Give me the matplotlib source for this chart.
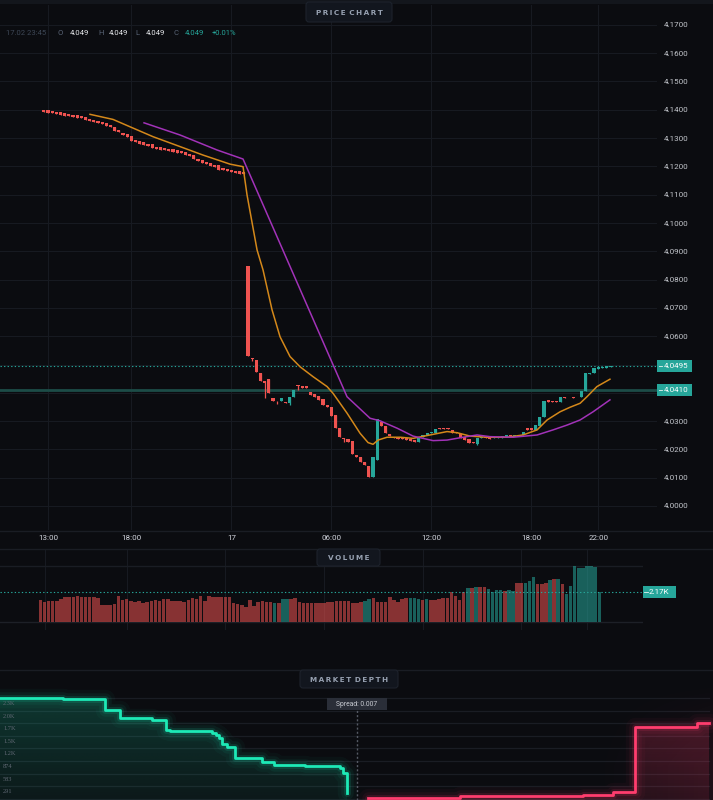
import matplotlib
matplotlib.use("Agg")
import matplotlib.pyplot as plt
import numpy as np
from matplotlib.patches import FancyBboxPatch, Rectangle
from matplotlib.lines import Line2D
from matplotlib.transforms import Affine2D, offset_copy
from matplotlib.colors import to_rgb

plt.rcParams["font.family"] = ["Roboto", "DejaVu Sans"]

W, H = 713, 800
BG = "#0b0c10"
GRID = "#171a21"
UP = "#26a69a"
DOWN = "#ef5350"
BID = "#1de9b6"
ASK = "#ff3d6e"

# ---- price chart: 15 minute candles, time in hours from 16.02 00:00
t_start = 12.75
t_step = 0.25
opens = [4.1401, 4.1398, 4.1396, 4.1393, 4.1391, 4.1387, 4.1385, 4.1382, 4.1380, 4.1378,
         4.1373, 4.1369, 4.1364, 4.1362, 4.1357, 4.1352, 4.1348, 4.1339, 4.1329, 4.1318,
         4.1313, 4.1307, 4.1294, 4.1288, 4.1285, 4.1280, 4.1279, 4.1269, 4.1267, 4.1265,
         4.1263, 4.1260, 4.1257, 4.1254, 4.1250, 4.1244, 4.1240, 4.1227, 4.1221, 4.1216,
         4.1211, 4.1205, 4.1205, 4.1194, 4.1191, 4.1188, 4.1185, 4.1182, 4.1180, 4.0848,
         4.0523, 4.0516, 4.0471, 4.0442, 4.0448, 4.0382, 4.0371, 4.0372, 4.0369, 4.0363,
         4.0385, 4.0425, 4.0424, 4.0424, 4.0404, 4.0395, 4.0390, 4.0377, 4.0357, 4.0349,
         4.0322, 4.0275, 4.0239, 4.0236, 4.0230, 4.0180, 4.0174, 4.0157, 4.0141, 4.0104,
         4.0163, 4.0298, 4.0284, 4.0254, 4.0245, 4.0243, 4.0241, 4.0239, 4.0236, 4.0233,
         4.0227, 4.0243, 4.0250, 4.0257, 4.0259, 4.0277, 4.0277, 4.0276, 4.0269, 4.0263,
         4.0254, 4.0243, 4.0237, 4.0227, 4.0219, 4.0239, 4.0243, 4.0241, 4.0239, 4.0239,
         4.0240, 4.0245, 4.0250, 4.0247, 4.0248, 4.0251, 4.0275, 4.0275, 4.0269, 4.0283,
         4.0316, 4.0375, 4.0372, 4.0372, 4.0369, 4.0384, 4.0383, 4.0384, 4.0383, 4.0386,
         4.0407, 4.0466, 4.0471, 4.0483, 4.0489, 4.0487, 4.0492]
closes = [4.1393, 4.1390, 4.1388, 4.1385, 4.1383, 4.1379, 4.1377, 4.1374, 4.1372, 4.1370,
          4.1365, 4.1361, 4.1356, 4.1354, 4.1349, 4.1344, 4.1340, 4.1325, 4.1321, 4.1310,
          4.1305, 4.1290, 4.1286, 4.1280, 4.1277, 4.1272, 4.1265, 4.1261, 4.1259, 4.1257,
          4.1255, 4.1252, 4.1249, 4.1246, 4.1242, 4.1236, 4.1226, 4.1219, 4.1213, 4.1208,
          4.1203, 4.1197, 4.1187, 4.1186, 4.1183, 4.1180, 4.1177, 4.1174, 4.1172, 4.0530,
          4.0521, 4.0475, 4.0442, 4.0434, 4.0398, 4.0371, 4.0370, 4.0382, 4.0363, 4.0385,
          4.0410, 4.0424, 4.0418, 4.0418, 4.0392, 4.0386, 4.0375, 4.0357, 4.0351, 4.0319,
          4.0275, 4.0245, 4.0238, 4.0227, 4.0183, 4.0172, 4.0157, 4.0145, 4.0104, 4.0172,
          4.0306, 4.0283, 4.0259, 4.0247, 4.0239, 4.0238, 4.0236, 4.0233, 4.0231, 4.0227,
          4.0243, 4.0251, 4.0257, 4.0262, 4.0271, 4.0272, 4.0272, 4.0271, 4.0259, 4.0257,
          4.0239, 4.0233, 4.0222, 4.0222, 4.0239, 4.0243, 4.0239, 4.0236, 4.0245, 4.0243,
          4.0247, 4.0250, 4.0247, 4.0251, 4.0252, 4.0263, 4.0269, 4.0269, 4.0286, 4.0313,
          4.0372, 4.0369, 4.0369, 4.0368, 4.0384, 4.0381, 4.0380, 4.0381, 4.0380, 4.0407,
          4.0469, 4.0471, 4.0487, 4.0490, 4.0492, 4.0495, 4.0495]
wick_low = {50: 4.0512, 53: 4.0382, 56: 4.0362, 59: 4.0357, 61: 4.0410, 72: 4.0227, 104: 4.0216}

# moving averages (time, price)
ma_fast_t = [15.52, 16.90, 17.92, 19.30, 20.92, 22.30, 23.92, 24.70, 24.94, 25.54, 25.90, 26.44,
             26.92, 27.52, 28.12, 28.90, 29.74, 30.10, 30.94, 31.72, 32.20, 32.50, 32.80, 33.34,
             34.12, 34.90, 35.92, 36.94, 37.54, 38.32, 39.34, 40.54, 41.50, 42.34, 42.94, 43.72,
             44.32, 44.92, 45.33, 45.93, 46.71]
ma_fast_p = [4.1384, 4.1366, 4.1340, 4.1305, 4.1270, 4.1240, 4.1208, 4.1199, 4.1099, 4.0905, 4.0834,
             4.0693, 4.0598, 4.0528, 4.0492, 4.0457, 4.0422, 4.0398, 4.0328, 4.0257, 4.0224, 4.0218,
             4.0233, 4.0243, 4.0243, 4.0239, 4.0251, 4.0263, 4.0259, 4.0247, 4.0243, 4.0243, 4.0251,
             4.0269, 4.0304, 4.0333, 4.0349, 4.0363, 4.0386, 4.0422, 4.0448]
ma_slow_t = [18.76, 20.92, 23.14, 24.70, 30.94, 32.32, 32.92, 33.94, 34.90, 36.10, 36.94, 37.90,
             38.74, 39.52, 40.90, 42.34, 43.30, 44.14, 44.92, 45.70, 46.71]
ma_slow_p = [4.1354, 4.1311, 4.1258, 4.1226, 4.0386, 4.0310, 4.0301, 4.0275, 4.0247, 4.0231, 4.0233,
             4.0243, 4.0251, 4.0245, 4.0243, 4.0251, 4.0269, 4.0286, 4.0304, 4.0333, 4.0375]

last_price = 4.0495
ref_price = 4.0410
price_ticks = [4.17, 4.16, 4.15, 4.14, 4.13, 4.12, 4.11, 4.10, 4.09, 4.08, 4.07, 4.06,
               4.05, 4.04, 4.03, 4.02, 4.01, 4.00]
time_ticks = [13, 18, 24, 30, 36, 42, 46]
time_labels = ["13:00", "18:00", "17", "06:00", "12:00", "18:00", "22:00"]

# ---- volume
volumes = [1581, 1440, 1487, 1487, 1487, 1628, 1770, 1817, 1770, 1864,
           1817, 1817, 1770, 1770, 1723, 1204, 1204, 1204, 1298, 1864,
           1581, 1676, 1487, 1440, 1487, 1392, 1440, 1487, 1581, 1534,
           1628, 1628, 1534, 1487, 1487, 1440, 1581, 1699, 1676, 1864,
           1487, 1864, 1817, 1770, 1770, 1817, 1817, 1345, 1298, 1251,
           1109, 1581, 1156, 1440, 1487, 1440, 1440, 1392, 1345, 1628,
           1628, 1676, 1723, 1440, 1392, 1345, 1345, 1345, 1345, 1345,
           1463, 1463, 1487, 1510, 1487, 1487, 1392, 1392, 1416, 1487,
           1652, 1699, 1416, 1416, 1463, 1794, 1581, 1416, 1652, 1746,
           1746, 1699, 1652, 1605, 1628, 1581, 1581, 1628, 1699, 1699,
           2148, 1864, 1605, 2148, 2431, 2431, 2525, 2525, 2478, 2360,
           2171, 2266, 2266, 2218, 2266, 2195, 2761, 2761, 2808, 2903,
           3186, 2714, 2714, 2761, 2997, 3044, 3044, 2714, 2006, 2572,
           4012, 3847, 3847, 3988, 3988, 3918, 2171]
vol_up_idx = [57, 59, 60, 79, 80, 90, 91, 92, 94, 104, 106, 109, 110, 111, 112, 114, 115,
              118, 119, 120, 124, 126, 128, 129, 130, 131, 132, 133, 134, 135, 136]
vol_last = 2170

# ---- market depth
bid_prices = [3.9265, 3.9476, 3.9615, 3.9665, 3.9771, 3.9818, 3.9832, 3.9972, 3.9985, 3.9995,
              4.0004, 4.0021, 4.0048, 4.0139, 4.0178, 4.0282, 4.0398, 4.0409, 4.0421]
bid_cum = [2322, 2306, 2052, 1874, 1820, 1589, 1566, 1527, 1473, 1404, 1265, 1196, 948,
           849, 779, 756, 710, 594, 132]
ask_prices = [4.0492, 4.0798, 4.1208, 4.1308, 4.1382, 4.1588, 4.1628]
ask_cum = [23, 56, 86, 162, 1665, 1758, 1758]
depth_ticks = [291, 583, 874, 1166, 1457, 1749, 2040, 2331]
depth_labels = ["291", "583", "874", "1.2K", "1.5K", "1.7K", "2.0K", "2.3K"]
mid_price = 4.0455
spread = 0.007

# pixel (from top-left) -> figure transform
fig = plt.figure(figsize=(W / 100, H / 100), dpi=100, facecolor=BG)
PX = Affine2D().scale(1 / W, -1 / H).translate(0, 1) + fig.transFigure


def box(x0, y0, x1, y1, fc, ec="none", r=0.0, z=5):
    p = FancyBboxPatch((x0, y0), x1 - x0, y1 - y0,
                       boxstyle=f"round,pad=0,rounding_size={r}" if r else "square,pad=0",
                       fc=fc, ec=ec, lw=0.8, transform=PX, zorder=z)
    fig.add_artist(p)


def hline(y, x0=0, x1=W, color="#1a1d24", lw=1.0):
    fig.add_artist(Line2D([x0, x1], [y, y], color=color, lw=lw, transform=PX, zorder=4))


times = t_start + t_step * np.arange(len(opens))
o = np.array(opens)
c = np.array(closes)

# ================= price chart
ax = fig.add_axes([0, 1 - 530 / H, 657 / W, 525 / H])
ax.set_facecolor(BG)
for s in ax.spines.values():
    s.set_visible(False)
ax.set_xlim(13 - 48 / 16.67, 13 + 609 / 16.67)
ax.set_ylim(4 - 24 / 2830, 4 + 501 / 2830)
ax.set_xticks(time_ticks, time_labels)
ax.set_yticks(price_ticks, [("" if p in (4.05, 4.04) else f"{p:.4f}") for p in price_ticks])
ax.yaxis.tick_right()
ax.tick_params(axis="x", length=0, pad=3.5, labelsize=5.8, colors="#d1d4dc")
ax.tick_params(axis="y", length=0, pad=5, labelsize=5.8, colors="#c3c6cc")
ax.grid(True, color=GRID, lw=0.8)
ax.set_axisbelow(True)

up = c >= o
cols = np.where(up, UP, DOWN)
bottoms = np.minimum(o, c)
heights = np.maximum(np.abs(c - o), 0.00025)
lows = np.array([wick_low.get(i, b) for i, b in enumerate(bottoms)])
ax.vlines(times, lows, bottoms + heights, colors=cols, lw=0.9, zorder=3)
ax.bar(times, heights, bottom=bottoms, width=0.19, color=cols, lw=0, zorder=4)

ax.plot(ma_fast_t, ma_fast_p, color="#d4881a", lw=1.1, zorder=5)
ax.plot(ma_slow_t, ma_slow_p, color="#a232b8", lw=1.1, zorder=5)

ax.axhline(last_price, color=UP, lw=0.8, ls=(0, (1.2, 2.0)), zorder=2)
ax.axhline(ref_price, color="#1c4c47", lw=2.0, zorder=2)
ytr = ax.get_yaxis_transform()
for p in (last_price, ref_price):
    ax.add_patch(Rectangle((1.0, p - 0.00215), 35 / 657, 0.0043, transform=ytr,
                           fc=UP, ec="none", clip_on=False, zorder=6))
    ax.add_line(Line2D([1.003, 1.007], [p, p], transform=ytr, color="#e8f5f3",
                       lw=0.6, clip_on=False, zorder=7))
    ax.text(664 / 657, p, f"{p:.4f}", transform=ytr, ha="left", va="center",
            fontsize=5.8, color="white", zorder=7, clip_on=False)

# OHLC row
row_y = 33
fig.text(6, row_y, "17.02 23:45", transform=PX, fontsize=5.5, color="#3d4756", va="center")
for x, s, col in [(57, "O", "#5a6577"), (70, "4.049", "#e6e8ec"), (98, "H", "#5a6577"),
                  (109, "4.049", "#e6e8ec"), (135, "L", "#5a6577"), (146, "4.049", "#e6e8ec"),
                  (174, "C", "#5a6577"), (185, "4.049", UP), (212, "+0.01%", UP)]:
    fig.text(x, row_y, s, transform=PX, fontsize=5.5, color=col, va="center")

# ================= volume
ax2 = fig.add_axes([0, 1 - 630 / H, 643 / W, 81 / H])
ax2.set_facecolor(BG)
for s in ax2.spines.values():
    s.set_visible(False)
ax2.set_xlim(13 - 44.5 / 16.44, 13 + 598.5 / 16.44)
ax2.set_ylim(-546, 5198)
ax2.set_xticks(time_ticks)
ax2.set_yticks([])
ax2.tick_params(axis="x", length=0, labelbottom=False)
ax2.grid(True, axis="x", color=GRID, lw=0.8)
ax2.set_axisbelow(True)
vcols = [UP if i in vol_up_idx else DOWN for i in range(len(volumes))]
ax2.bar(times, volumes, width=0.215, color=vcols, alpha=0.55, lw=0, zorder=3)
ax2.axhline(0, color="#1d2027", lw=1.0, zorder=2)
ax2.axhline(max(volumes), color="#1a1d24", lw=1.0, zorder=2)
ax2.axhline(vol_last, color=UP, lw=0.8, ls=(0, (1.2, 2.0)), zorder=4)
ytr2 = ax2.get_yaxis_transform()
ax2.add_patch(Rectangle((1.0, vol_last - 12 * 35.5), 33 / 643, 12 * 71, transform=ytr2,
                        fc=UP, ec="none", clip_on=False, zorder=6))
ax2.add_line(Line2D([1.002, 1.007], [vol_last, vol_last], transform=ytr2, color="#e8f5f3",
                    lw=0.6, clip_on=False, zorder=7))
ax2.text(649 / 643, vol_last, "2.17K", transform=ytr2, ha="left", va="center",
         fontsize=5.8, color="white", zorder=7, clip_on=False)

# ================= market depth
ax3 = fig.add_axes([0, 0, 1, 128 / H])
ax3.set_facecolor(BG)
for s in ax3.spines.values():
    s.set_visible(False)
x_lo, x_hi = 3.9265, 4.1642
ax3.set_xlim(x_lo, x_hi)
ax3.set_ylim(-30, 2931)
ax3.set_xticks([])
ax3.set_yticks([])
for v in [0] + depth_ticks:
    ax3.axhline(v, xmax=709 / 713, color="#1a1d24", lw=0.9, zorder=1)
lab_tr = offset_copy(ax3.transData, fig=fig, y=-5.6, units="dots")
for v, s in zip(depth_ticks, depth_labels):
    ax3.text(x_lo + 0.001, v, s, transform=lab_tr, fontsize=4.6, color="#5f6773",
             family="Liberation Serif", va="center", ha="left", zorder=8)

# gradient fills clipped to the depth polygons
bid_poly = ax3.fill_between(bid_prices, bid_cum, -30, step="post", color="none", lw=0)
g = np.zeros((256, 1, 4))
g[..., :3] = to_rgb(BID)
g[..., 3] = np.linspace(0.20, 0.06, 256)[:, None]
im = ax3.imshow(g, extent=[x_lo, bid_prices[-1], -30, 2400], aspect="auto",
                origin="upper", zorder=2, interpolation="bilinear")
im.set_clip_path(bid_poly.get_paths()[0], transform=ax3.transData)

ask_poly = ax3.fill_between(ask_prices, ask_cum, -30, step="post", color="none", lw=0)
g2 = np.zeros((256, 1, 4))
g2[..., :3] = to_rgb(ASK)
g2[..., 3] = np.linspace(0.22, 0.10, 256)[:, None]
im2 = ax3.imshow(g2, extent=[ask_prices[0], x_hi, -30, 1800], aspect="auto",
                 origin="upper", zorder=2, interpolation="bilinear")
im2.set_clip_path(ask_poly.get_paths()[0], transform=ax3.transData)

# soft glow on the ask side, fading to the left and to the top
gx = np.linspace(0, 1, 256)[None, :] ** 1.6
gy = np.clip(np.linspace(0, 1.4, 128)[:, None], 0, 1)
g3 = np.zeros((128, 256, 4))
g3[..., :3] = to_rgb(ASK)
g3[..., 3] = 0.08 * gx * gy
ax3.imshow(g3, extent=[4.1168, x_hi, -30, 2750], aspect="auto", zorder=1.5,
           origin="upper", interpolation="bilinear")

for lw, a in [(14, 0.035), (9, 0.06), (5, 0.12)]:
    ax3.step(bid_prices, bid_cum, where="post", color=BID, lw=lw, alpha=a, zorder=3,
             solid_joinstyle="round", solid_capstyle="round")
    ax3.step(ask_prices, ask_cum, where="post", color=ASK, lw=lw, alpha=a, zorder=3,
             solid_joinstyle="round", solid_capstyle="round")
ax3.step(bid_prices, bid_cum, where="post", color=BID, lw=2.0, zorder=4)
ax3.step(ask_prices, ask_cum, where="post", color=ASK, lw=2.0, zorder=4)

ax3.plot([mid_price, mid_price], [-30, 2060], color="#555a64", lw=1.0,
         ls=(0, (1.5, 1.5)), zorder=5)

# ================= frame pieces
fig.add_artist(Rectangle((0, 0), W, 4, transform=PX, fc="#13161c", ec="none", zorder=3))
hline(530.5)
hline(548.5)
hline(670)

box(306, 2, 392, 22, "#12161e", "#1d222c", r=3)
fig.text(349, 13, "P\u2009R\u2009I\u2009C\u2009E\u2002C\u2009H\u2009A\u2009R\u2009T", transform=PX,
         ha="center", va="center", fontsize=5.2, fontweight="bold", color="#97a1b1",
         family="DejaVu Sans", zorder=6)
box(317, 549, 380, 566, "#12161e", "#1d222c", r=3)
fig.text(348.5, 557.5, "V\u2009O\u2009L\u2009U\u2009M\u2009E", transform=PX,
         ha="center", va="center", fontsize=5.2, fontweight="bold", color="#97a1b1",
         family="DejaVu Sans", zorder=6)
box(300, 670, 398, 688, "#12161e", "#1d222c", r=3)
fig.text(349, 679.5, "M\u2009A\u2009R\u2009K\u2009E\u2009T\u2002D\u2009E\u2009P\u2009T\u2009H",
         transform=PX, ha="center", va="center", fontsize=5.2, fontweight="bold",
         color="#97a1b1", family="DejaVu Sans", zorder=6)
box(327, 698, 387, 710, "#2a2e38", z=6)
fig.text(357, 704, f"Spread: {spread:.3f}", transform=PX, ha="center", va="center",
         fontsize=4.9, color="#c9ccd3", zorder=7)

fig.savefig("out.png", dpi=100, facecolor=BG)
